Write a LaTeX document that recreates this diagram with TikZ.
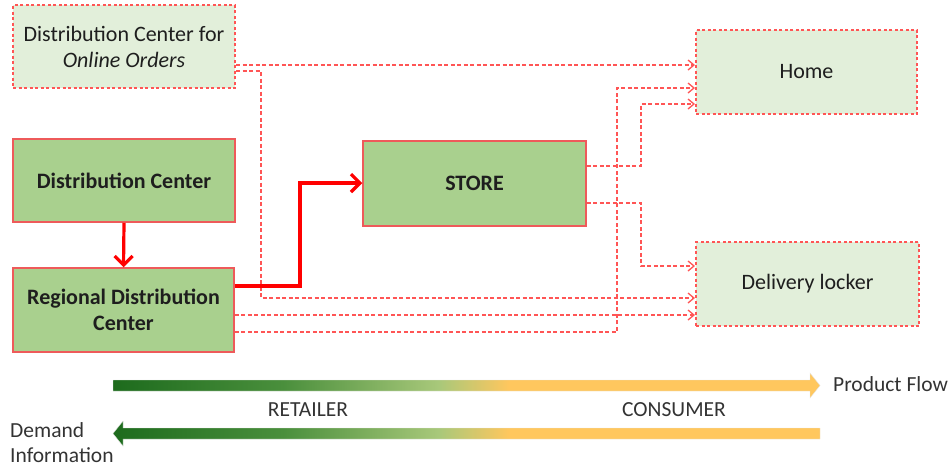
\documentclass[tikz,border=0pt]{standalone}
\usepackage{fontspec}
\setmainfont{Carlito}
\usetikzlibrary{arrows.meta}
\definecolor{boxgreen}{HTML}{A9D08E}
\definecolor{palegreen}{HTML}{E2EFDA}
\definecolor{boxred}{HTML}{EE5A5A}
\definecolor{dashred}{HTML}{FF5555}
\definecolor{txt}{HTML}{1E1E1E}
\definecolor{ltxt}{HTML}{333333}
\definecolor{gdark}{HTML}{1D6B1D}
\definecolor{gmid}{HTML}{4A8F3C}
\definecolor{glight}{HTML}{A8C87A}
\definecolor{gold}{HTML}{FFC75E}
\pgfdeclarehorizontalshading{flowshade}{100bp}{color(0bp)=(gdark); color(25bp)=(gdark); color(37bp)=(gmid); color(48bp)=(glight); color(53bp)=(gold); color(75bp)=(gold); color(100bp)=(gold)}
\tikzset{
  solidbox/.style={draw=boxred, line width=1.5pt, fill=boxgreen, text=txt, font=\fontsize{22}{26}\selectfont\bfseries, align=center, inner sep=0pt},
  dashbox/.style={draw=dashred, line width=2pt, dash pattern=on 3pt off 2.5pt, fill=palegreen, text=txt, font=\fontsize{22}{26}\selectfont, align=center, inner sep=0pt},
  dline/.style={draw=dashred, line width=1.3pt, dash pattern=on 4pt off 2.5pt, -{Straight Barb[length=6pt,width=10pt,line width=1.3pt]}},
  sline/.style={draw=red, line width=3.2pt, -{Straight Barb[length=9pt,width=18pt,line width=3.2pt]}},
  lbl/.style={text=ltxt, font=\fontsize{21.5}{25}\selectfont, inner sep=0pt}
}
\begin{document}
\begin{tikzpicture}[x=1pt,y=-1pt]
\useasboundingbox (0,0) rectangle (952,467);
% boxes
\node[dashbox, minimum width=222pt, minimum height=83pt] (odc) at (124,46.5) {Distribution Center for\\\textit{Online Orders}};
\node[solidbox, minimum width=222pt, minimum height=83pt] (dc) at (124,180.5) {Distribution Center};
\node[solidbox, minimum width=221pt, minimum height=84pt] (rdc) at (123.5,310) {Regional Distribution\\Center};
\node[solidbox, minimum width=223pt, minimum height=85pt] (store) at (474.5,183.5) {STORE};
\node[dashbox, minimum width=221pt, minimum height=84pt] (home) at (806.5,72) {Home};
\node[dashbox, minimum width=223pt, minimum height=84pt] (dl) at (807.5,284) {Delivery locker};
% dashed connectors
\draw[dline] (odc.east |- 0,65) -- (home.west |- 0,65);
\draw[dline] (odc.east |- 0,71) -- (261,71) -- (261,298) -- (dl.west |- 0,298);
\draw[dline] (rdc.east |- 0,315) -- (dl.west |- 0,315);
\draw[dline] (rdc.east |- 0,332) -- (617,332) -- (617,88) -- (home.west |- 0,88);
\draw[dline] (store.east |- 0,166) -- (641,166) -- (641,104) -- (home.west |- 0,104);
\draw[dline] (store.east |- 0,203) -- (641,203) -- (641,266) -- (dl.west |- 0,266);
% solid connectors
\draw[sline] (dc.south) -- (rdc.north);
\draw[sline] (rdc.east |- 0,286) -- (300,286) -- (300,183) -- (store.west |- 0,183);
% flow arrows
\shade[shading=flowshade, draw=white!80!gray, line width=0.4pt]
  (113,380) -- (810,380) -- (810,373) -- (820,385.5) -- (810,398) -- (810,391) -- (113,391) -- cycle;
\shade[shading=flowshade, draw=white!80!gray, line width=0.4pt]
  (820,428) -- (123,428) -- (123,421) -- (113,433.5) -- (123,446) -- (123,439) -- (820,439) -- cycle;
\node[lbl, anchor=west] (pf) at (833,384) {Product Flow};
\node[lbl] (ret) at (308,410) {RETAILER};
\node[lbl] (con) at (674,410) {CONSUMER};
\node[lbl, anchor=base west] (dem) at (10,437) {Demand};
\node[lbl, anchor=base west] (inf) at (10,462) {Information};
\end{tikzpicture}
\end{document}
